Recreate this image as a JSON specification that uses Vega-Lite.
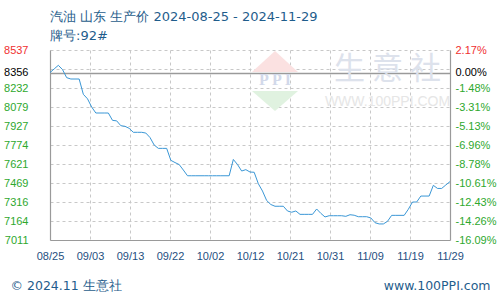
{
  "$schema": "https://vega.github.io/schema/vega-lite/v6.json",
  "width": 400,
  "height": 190,
  "autosize": "none",
  "padding": {"left": 50, "top": 50, "right": 50, "bottom": 60},
  "background": "white",
  "config": {"view": {"stroke": null}, "font": "Liberation Sans", "axisX": {"labelOverlap": false}},
  "title": {
    "text": "汽油 山东 生产价 2024-08-25 - 2024-11-29",
    "subtitle": "牌号:92#",
    "anchor": "start",
    "frame": "group",
    "font": "DejaVu Sans",
    "fontSize": 13,
    "fontWeight": "normal",
    "color": "#1f5d8c",
    "subtitleFont": "DejaVu Sans",
    "subtitleFontSize": 13,
    "subtitleColor": "#1f5d8c",
    "subtitlePadding": 6,
    "offset": 1
  },
  "resolve": {"scale": {"y": "independent"}},
  "layer": [
    {
      "data": {"values": [{}]},
      "mark": {"type": "point", "shape": "M -1 0 L 1 0 L 0 -0.91 Z", "size": 2116, "filled": true, "color": "#fbe1e1", "opacity": 1},
      "encoding": {
        "x": {"datum": 1729209600000, "type": "temporal"},
        "y": {"datum": 8360, "type": "quantitative", "scale": {"domain": [7011, 8537], "nice": false}, "axis": null}
      }
    },
    {
      "data": {"values": [{}]},
      "mark": {"type": "point", "shape": "M -1 0 L 1 0 L 0 0.87 Z", "size": 2116, "filled": true, "color": "#e0f2e0", "opacity": 1},
      "encoding": {
        "x": {"datum": 1729209600000, "type": "temporal"},
        "y": {"datum": 8208, "type": "quantitative", "scale": {"domain": [7011, 8537], "nice": false}, "axis": null}
      }
    },
    {
      "data": {"values": [{}]},
      "mark": {"type": "text", "text": "P P I", "fontSize": 16, "font": "Liberation Serif", "fontWeight": "bold", "color": "#d2d9ea"},
      "encoding": {
        "x": {"datum": 1729209600000, "type": "temporal"},
        "y": {"datum": 8295, "type": "quantitative", "scale": {"domain": [7011, 8537], "nice": false}, "axis": null}
      }
    },
    {
      "data": {"values": [{}]},
      "mark": {"type": "text", "text": "WWW.100PPI.COM", "fontSize": 14, "font": "Liberation Sans", "color": "#e6e6e6"},
      "encoding": {
        "x": {"datum": 1731542400000, "type": "temporal"},
        "y": {"datum": 8119, "type": "quantitative", "scale": {"domain": [7011, 8537], "nice": false}, "axis": null}
      }
    },
    {
      "data": {"values": [{}]},
      "mark": {"type": "text", "text": "生 意 社", "fontSize": 31, "font": "Noto Sans CJK SC", "color": "#dde2ec"},
      "encoding": {
        "x": {"datum": 1731542400000, "type": "temporal"},
        "y": {
          "datum": 8380,
          "type": "quantitative",
          "scale": {"domain": [7011, 8537], "nice": false},
          "axis": {
            "orient": "right",
            "values": [7011, 7163.6, 7316.2, 7468.8, 7621.4, 7774, 7926.6, 8079.2, 8231.8, 8356, 8384.4, 8537],
            "tickCount": 30,
            "labelExpr": "datum.value < 7100 ? '-16.09%' : datum.value < 7200 ? '-14.26%' : datum.value < 7400 ? '-12.43%' : datum.value < 7500 ? '-10.61%' : datum.value < 7700 ? '-8.78%' : datum.value < 7850 ? '-6.96%' : datum.value < 8000 ? '-5.13%' : datum.value < 8150 ? '-3.31%' : datum.value < 8300 ? '-1.48%' : datum.value < 8370 ? '0.00%' : datum.value < 8450 ? '' : '2.17%'",
            "labelColor": {"condition": [{"test": "datum.value > 8500", "value": "#f03030"}, {"test": "abs(datum.value - 8356) < 1", "value": "#000000"}], "value": "#2ea82e"},
            "labelFont": "Liberation Sans",
            "labelFontSize": 11,
            "labelPadding": 5,
            "ticks": false,
            "tickSize": 0,
            "grid": false,
            "domain": true,
            "domainColor": "#9a9a9a",
            "domainWidth": 1.2,
            "title": "www.100PPI.com",
            "titleAngle": 0,
            "titleX": 40,
            "titleY": 235,
            "titleAlign": "right",
            "titleBaseline": "middle",
            "titleFont": "DejaVu Sans",
            "titleFontSize": 12.5,
            "titleFontWeight": "normal",
            "titleColor": "#1f5d8c"
          }
        }
      }
    },
    {
      "data": {
        "values": [
          {"date": "2024-08-25", "price": 8356}, {"date": "2024-08-26", "price": 8385}, {"date": "2024-08-27", "price": 8414},
          {"date": "2024-08-28", "price": 8380}, {"date": "2024-08-29", "price": 8315}, {"date": "2024-08-30", "price": 8304},
          {"date": "2024-08-31", "price": 8304}, {"date": "2024-09-01", "price": 8304}, {"date": "2024-09-02", "price": 8181},
          {"date": "2024-09-03", "price": 8145}, {"date": "2024-09-04", "price": 8079}, {"date": "2024-09-05", "price": 8031},
          {"date": "2024-09-06", "price": 8031}, {"date": "2024-09-07", "price": 8031}, {"date": "2024-09-08", "price": 8031},
          {"date": "2024-09-09", "price": 7972}, {"date": "2024-09-10", "price": 7968}, {"date": "2024-09-11", "price": 7929},
          {"date": "2024-09-12", "price": 7924}, {"date": "2024-09-13", "price": 7908}, {"date": "2024-09-14", "price": 7876},
          {"date": "2024-09-15", "price": 7876}, {"date": "2024-09-16", "price": 7876}, {"date": "2024-09-17", "price": 7870},
          {"date": "2024-09-18", "price": 7834}, {"date": "2024-09-19", "price": 7774}, {"date": "2024-09-20", "price": 7747},
          {"date": "2024-09-21", "price": 7747}, {"date": "2024-09-22", "price": 7747}, {"date": "2024-09-23", "price": 7651},
          {"date": "2024-09-24", "price": 7633}, {"date": "2024-09-25", "price": 7617}, {"date": "2024-09-26", "price": 7573},
          {"date": "2024-09-27", "price": 7527}, {"date": "2024-09-28", "price": 7527}, {"date": "2024-09-29", "price": 7527},
          {"date": "2024-09-30", "price": 7527}, {"date": "2024-10-01", "price": 7527}, {"date": "2024-10-02", "price": 7527},
          {"date": "2024-10-03", "price": 7527}, {"date": "2024-10-04", "price": 7527}, {"date": "2024-10-05", "price": 7527},
          {"date": "2024-10-06", "price": 7527}, {"date": "2024-10-07", "price": 7527}, {"date": "2024-10-08", "price": 7658},
          {"date": "2024-10-09", "price": 7617}, {"date": "2024-10-10", "price": 7565}, {"date": "2024-10-11", "price": 7576},
          {"date": "2024-10-12", "price": 7557}, {"date": "2024-10-13", "price": 7555}, {"date": "2024-10-14", "price": 7463},
          {"date": "2024-10-15", "price": 7404}, {"date": "2024-10-16", "price": 7328}, {"date": "2024-10-17", "price": 7296},
          {"date": "2024-10-18", "price": 7282}, {"date": "2024-10-19", "price": 7282}, {"date": "2024-10-20", "price": 7282},
          {"date": "2024-10-21", "price": 7244}, {"date": "2024-10-22", "price": 7234}, {"date": "2024-10-23", "price": 7244},
          {"date": "2024-10-24", "price": 7217}, {"date": "2024-10-25", "price": 7217}, {"date": "2024-10-26", "price": 7217},
          {"date": "2024-10-27", "price": 7217}, {"date": "2024-10-28", "price": 7260}, {"date": "2024-10-29", "price": 7225},
          {"date": "2024-10-30", "price": 7196}, {"date": "2024-10-31", "price": 7206}, {"date": "2024-11-01", "price": 7206},
          {"date": "2024-11-02", "price": 7206}, {"date": "2024-11-03", "price": 7206}, {"date": "2024-11-04", "price": 7201},
          {"date": "2024-11-05", "price": 7214}, {"date": "2024-11-06", "price": 7210}, {"date": "2024-11-07", "price": 7198},
          {"date": "2024-11-08", "price": 7198}, {"date": "2024-11-09", "price": 7198}, {"date": "2024-11-10", "price": 7188},
          {"date": "2024-11-11", "price": 7150}, {"date": "2024-11-12", "price": 7140}, {"date": "2024-11-13", "price": 7140},
          {"date": "2024-11-14", "price": 7161}, {"date": "2024-11-15", "price": 7209}, {"date": "2024-11-16", "price": 7209},
          {"date": "2024-11-17", "price": 7209}, {"date": "2024-11-18", "price": 7209}, {"date": "2024-11-19", "price": 7258},
          {"date": "2024-11-20", "price": 7316}, {"date": "2024-11-21", "price": 7316}, {"date": "2024-11-22", "price": 7364},
          {"date": "2024-11-23", "price": 7364}, {"date": "2024-11-24", "price": 7364}, {"date": "2024-11-25", "price": 7450},
          {"date": "2024-11-26", "price": 7425}, {"date": "2024-11-27", "price": 7425}, {"date": "2024-11-28", "price": 7453},
          {"date": "2024-11-29", "price": 7480}
        ]
      },
      "mark": {"type": "line", "color": "#3a97d6", "strokeWidth": 1},
      "encoding": {
        "x": {
          "field": "date",
          "type": "temporal",
          "scale": {"type": "utc", "domain": [1724544000000, 1732838400000], "nice": false},
          "axis": {
            "values": [1724544000000, 1725373440000, 1726202880000, 1727032320000, 1727861760000, 1728691200000, 1729520640000, 1730350080000, 1731179520000, 1732008960000, 1732838400000],
            "tickCount": 30,
            "format": "%m/%d",
            "labelFont": "Liberation Sans",
            "labelFontSize": 11,
            "labelColor": "#1f4f7f",
            "labelPadding": 10,
            "labelOverlap": false,
            "labelFlush": false,
            "ticks": false,
            "tickSize": 0,
            "grid": true,
            "gridColor": "#c8c8c8",
            "gridDash": [3, 3],
            "domainColor": "#9a9a9a",
            "domainWidth": 1.2,
            "title": "© 2024.11 生意社",
            "titleX": -40,
            "titleY": 45,
            "titleAlign": "left",
            "titleBaseline": "middle",
            "titleFont": "DejaVu Sans",
            "titleFontSize": 12.5,
            "titleFontWeight": "normal",
            "titleColor": "#1f5d8c"
          }
        },
        "y": {
          "field": "price",
          "type": "quantitative",
          "scale": {"domain": [7011, 8537], "nice": false},
          "axis": {
            "orient": "left",
            "values": [7011, 7163.6, 7316.2, 7468.8, 7621.4, 7774, 7926.6, 8079.2, 8231.8, 8356, 8384.4, 8537],
            "tickCount": 30,
            "labelExpr": "abs(datum.value - 8384.4) < 1 ? '' : format(round(datum.value), 'd')",
            "labelColor": {"condition": [{"test": "datum.value > 8500", "value": "#f03030"}, {"test": "abs(datum.value - 8356) < 1", "value": "#000000"}], "value": "#2ea82e"},
            "labelFont": "Liberation Sans",
            "labelFontSize": 11,
            "labelPadding": 22,
            "ticks": false,
            "tickSize": 0,
            "grid": true,
            "gridColor": {"condition": {"test": "abs(datum.value - 8356) < 1", "value": "#9a9a9a"}, "value": "#c8c8c8"},
            "gridDash": {"condition": {"test": "abs(datum.value - 8356) < 1", "value": []}, "value": [3, 3]},
            "gridWidth": {"condition": {"test": "abs(datum.value - 8356) < 1", "value": 1.5}, "value": 1},
            "domainColor": "#9a9a9a",
            "domainWidth": 1.2,
            "title": null
          }
        }
      }
    }
  ]
}
